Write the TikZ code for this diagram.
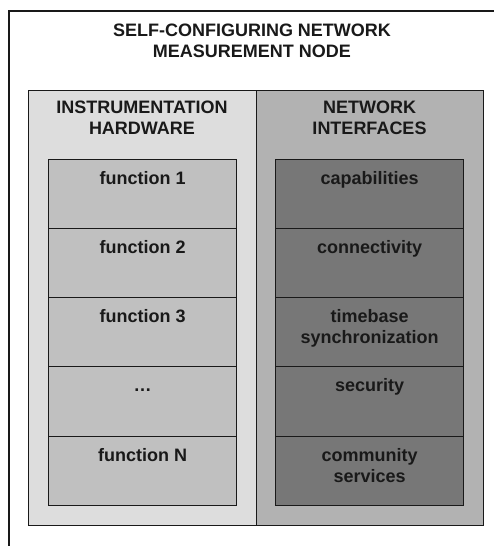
\documentclass[tikz,border=0pt]{standalone}
\usepackage{fontspec}
\setmainfont{Liberation Sans}
\definecolor{panelL}{gray}{0.867}
\definecolor{panelR}{gray}{0.70}
\definecolor{funcL}{gray}{0.753}
\definecolor{funcR}{gray}{0.467}
\definecolor{ink}{gray}{0.10}
\newcommand{\tstrut}{\rule{0pt}{14pt}}
\begin{document}
\begin{tikzpicture}[x=1pt,y=-1pt,
  lbl/.style={anchor=north, inner sep=0pt, align=center, text=ink,
    font=\fontsize{18}{21.5}\selectfont\bfseries},
  panel/.style={draw=ink, line width=1.2pt, anchor=north west, inner sep=0pt,
    minimum width=228pt, minimum height=435pt},
  fbox/.style={draw=ink, line width=1.2pt, anchor=north west, inner sep=0pt,
    minimum width=188pt, minimum height=69pt}]
\useasboundingbox (0,0) rectangle (494,546);
% outer box (cut off at right and bottom)
\coordinate (ob) at (9,560);
\coordinate (ot) at (9,11);
\coordinate (or) at (500,11);
\draw[ink, line width=1.4pt] (ob) -- (ot) -- (or);
\node[lbl] (title) at (252,22) {\tstrut SELF-CONFIGURING NETWORK\\MEASUREMENT NODE};
% panels
\node[panel, fill=panelL] (pl) at (28,90) {};
\node[panel, fill=panelR, minimum width=227pt] (pr) at (256,90) {};
\node[lbl] (tl) at (142,99) {\tstrut INSTRUMENTATION\\HARDWARE};
\node[lbl] (tr) at (369.5,99) {\tstrut NETWORK\\INTERFACES};
% left function boxes
\node[fbox, fill=funcL] (l1) at (48,159) {};
\node[fbox, fill=funcL] (l2) at (48,228) {};
\node[fbox, fill=funcL] (l3) at (48,297) {};
\node[fbox, fill=funcL, minimum height=70pt] (l4) at (48,366) {};
\node[fbox, fill=funcL] (l5) at (48,436) {};
% right function boxes
\node[fbox, fill=funcR] (r1) at (275,159) {};
\node[fbox, fill=funcR] (r2) at (275,228) {};
\node[fbox, fill=funcR] (r3) at (275,297) {};
\node[fbox, fill=funcR, minimum height=70pt] (r4) at (275,366) {};
\node[fbox, fill=funcR] (r5) at (275,436) {};
% labels
\node[lbl] (tl1) at ([yshift=-11pt]l1.north) {\tstrut function 1};
\node[lbl] (tl2) at ([yshift=-11pt]l2.north) {\tstrut function 2};
\node[lbl] (tl3) at ([yshift=-11pt]l3.north) {\tstrut function 3};
\node[lbl] (tl4) at ([yshift=-11pt]l4.north) {\tstrut …};
\node[lbl] (tl5) at ([yshift=-11pt]l5.north) {\tstrut function N};
\node[lbl] (tr1) at ([yshift=-11pt]r1.north) {\tstrut capabilities};
\node[lbl] (tr2) at ([yshift=-11pt]r2.north) {\tstrut connectivity};
\node[lbl] (tr3) at ([yshift=-11pt]r3.north) {\tstrut timebase\\synchronization};
\node[lbl] (tr4) at ([yshift=-11pt]r4.north) {\tstrut security};
\node[lbl] (tr5) at ([yshift=-11pt]r5.north) {\tstrut community\\services};
\end{tikzpicture}
\end{document}
